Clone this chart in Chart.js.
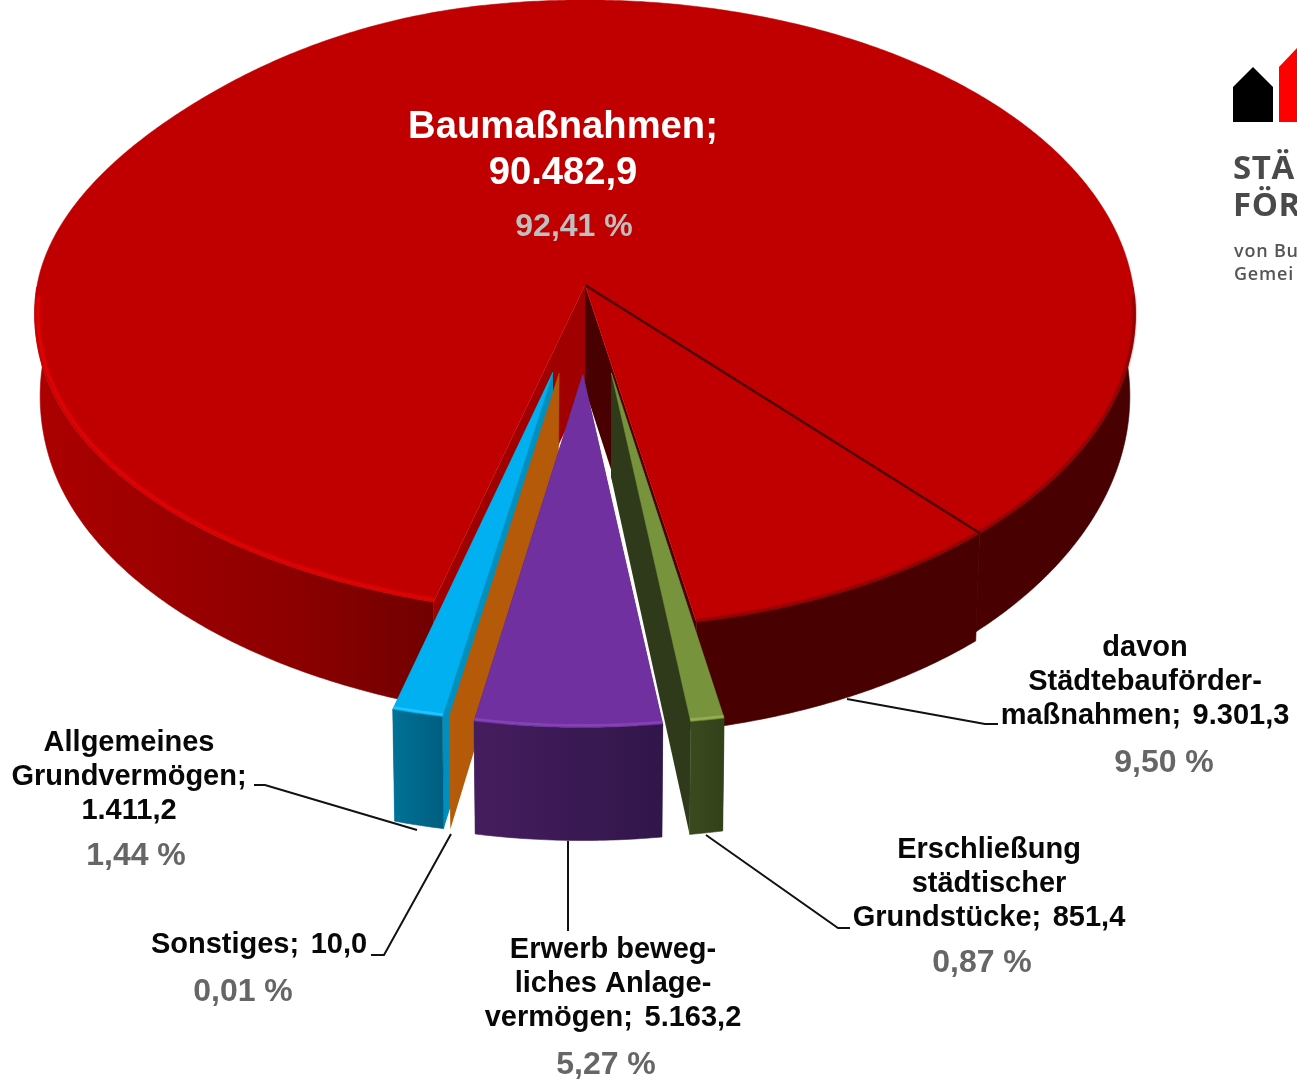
<!DOCTYPE html>
<html lang="de">
<head>
<meta charset="utf-8">
<title>Fördermittel</title>
<style>
html,body{margin:0;padding:0;background:#fff;overflow:hidden}
#wrap{position:absolute;left:0;top:0;width:1297px;height:1079px}
</style>
<script src="https://cdn.jsdelivr.net/npm/chart.js@4"></script>
</head>
<body>
<div id="wrap"><canvas id="c" width="1297" height="1079"></canvas></div>
<script>
/* ---------- data ---------- */
const categories = ["Baumaßnahmen (übrige)", "davon Städtebauförder-maßnahmen", "Erschließung städtischer Grundstücke", "Erwerb bewegliches Anlagevermögen", "Sonstiges", "Allgemeines Grundvermögen"];
const amounts = [81181.6, 9301.3, 851.4, 5163.2, 10.0, 1411.2];
const sliceColors = ["#C00000", "#C00000", "#77933C", "#7030A0", "#B45A08", "#00B0F0"];
const sliceOffsets = [0, 0, 132, 132, 132, 132];

const textBaumassnahmen = ["Baumaßnahmen;", "90.482,9"];
const textDavon = ["davon", "Städtebauförder-", "maßnahmen;  9.301,3"];
const textAllgemein = ["Allgemeines", "Grundvermögen;", "1.411,2"];
const textSonstiges = ["Sonstiges;  10,0"];
const textErwerb = ["Erwerb beweg-", "liches Anlage-", "vermögen;  5.163,2"];
const textErschliessung = ["Erschließung", "städtischer", "Grundstücke;  851,4"];
const percents = ["92,41 %", "9,50 %", "1,44 %", "0,01 %", "5,27 %", "0,87 %"];

/* ---------- 3D projection of the pie plane ---------- */
const VIEW = {cx:585, cy:285, sx:548, sy:311.4, p:0.0924, floorShrink:0.99, apexDepth:104};
const rad = d => d*Math.PI/180;
function project(X, Y, drop){
  const w = 1 - VIEW.p*Y;
  let x = VIEW.cx + VIEW.sx*X/w, y = VIEW.cy + VIEW.sy*Y/w;
  if (drop){ x = VIEW.cx + (x-VIEW.cx)*VIEW.floorShrink; y += drop; }
  return [x,y];
}
/* the original's left rim is not a true ellipse: two soft radial insets */
const smooth = t => { t=Math.max(0,Math.min(1,t)); return t*t*(3-2*t); };
function rimInset(th){
  const d=((th*180/Math.PI)%360+360)%360;
  const front = (d>=95 && d<180) ? 0.036*smooth((165-d)/60) : 0;
  const back = 0.026*smooth(1-Math.abs(d-218)/40);
  return front+back;
}
/* per-slice look: nudges follow the small angular drift of the hand-edited original;
   the Sonstiges sliver is a flat, widened overlay there, so its drawn width is a style */
const LOOK = [
 {startN:-0.3, endN:3.9, dirN:0, radius:1, depth:80, pow:3, face:"#A00000", wall:"rest", inset:true},
 {startN:3.9, endN:1.2, dirN:0, radius:1, depth:108, pow:0, face:"#480000", wall:"#480000"},
 {startN:1.3, endN:1.4, dirN:0.6, radius:0.974, depth:100, pow:1, face:"#2F3A1A", wall:["#3A4A1E","#33401A"], rim:"#93AC55"},
 {startN:1.1, endN:0.07, dirN:0, radius:0.977, depth:100, pow:1, face:"#3A1A50", wall:["#451D5E","#31164A"], rim:"#8442B4"},
 {startN:-10.3, endN:0, dirN:-0.8, radius:0.972, depth:99, pow:1, face:null, wall:"#B45A08", flat:true, taper:3.3},
 {startN:0, endN:-0.3, dirN:-1.1, radius:0.971, depth:99.5, pow:1, face:"#0090C0", wall:["#007196","#005F80"], rim:"#20C4FF"}
];
const SEPARATOR = "#4A0000";

function geom(arc, look){
  const s = arc.startAngle + rad(look.startN), e = arc.endAngle + rad(look.endN);
  const dir = (arc.startAngle+arc.endAngle)/2 + rad(look.dirN);
  const ex = (arc.options.offset||0)/arc.outerRadius;
  const ox = ex*Math.cos(dir), oy = ex*Math.sin(dir);
  const at = (th, rr, z) => {
    const r = rr*look.radius*(look.inset ? 1-rimInset(th) : 1);
    const Y = oy + r*Math.sin(th), X = ox + r*Math.cos(th);
    const drop = z ? look.depth/Math.pow(1-VIEW.p*Y, look.pow) : 0;
    return project(X, Y, drop);
  };
  return {s, e, at, ox, oy};
}
function poly(ctx, pts){
  ctx.beginPath();
  pts.forEach((p,i)=> i?ctx.lineTo(p[0],p[1]):ctx.moveTo(p[0],p[1]));
  ctx.closePath();
}
function samples(a,b){ const n=Math.max(2,Math.ceil((b-a)/rad(0.5))); const o=[]; for(let i=0;i<=n;i++) o.push(a+(b-a)*i/n); return o; }
function drawFace(ctx,g,th,color){
  if(!color) return;
  const top=g.at(th,0,0), rim=g.at(th,1,0), low=g.at(th,1,1);
  const apexLow=project(g.ox,g.oy,VIEW.apexDepth);
  ctx.fillStyle=color; poly(ctx,[top,rim,low,apexLow]); ctx.fill();
}
function drawWall(ctx,g,look){
  const fill = look.wall;
  const ths = samples(g.s,g.e).filter(t=>Math.sin(t)>0);
  if(ths.length<2) return;
  const runs=[[ths[0]]];
  for(let i=1;i<ths.length;i++){ if(ths[i]-ths[i-1]>rad(2)) runs.push([]); runs[runs.length-1].push(ths[i]); }
  runs.forEach(run=>{
    if(run.length<2) return;
    const up=run.map(t=>g.at(t,1,0)), down=run.map(t=>g.at(t,1,1)).reverse();
    let style=fill;
    if(fill==="rest"){
      const gr=ctx.createLinearGradient(35,0,1000,0);
      gr.addColorStop(0,"#AC0000"); gr.addColorStop(0.27,"#8C0000"); gr.addColorStop(0.41,"#720000"); gr.addColorStop(0.98,"#480000");
      style=gr;
    } else if(Array.isArray(fill)){
      const gr=ctx.createLinearGradient(up[0][0],0,up[up.length-1][0],0);
      gr.addColorStop(0,fill[1]); gr.addColorStop(1,fill[0]);
      style=gr;
    }
    ctx.fillStyle=style; ctx.strokeStyle=style; ctx.lineWidth=0.6;
    poly(ctx,up.concat(down)); ctx.fill(); ctx.stroke();
  });
}
function drawTop(ctx,g,color){
  const pts=[g.at(0,0,0)].concat(samples(g.s,g.e).map(t=>g.at(t,1,0)));
  ctx.fillStyle=color; ctx.strokeStyle=color; ctx.lineWidth=0.5;
  poly(ctx,pts); ctx.fill(); ctx.stroke();
}
function strokeRim(ctx,g,a,b,color,w,rr){
  const pts=samples(a,b).map(t=>g.at(t,rr||0.997,0));
  ctx.save(); ctx.strokeStyle=color; ctx.lineWidth=w; ctx.lineCap="butt";
  ctx.beginPath(); pts.forEach((p,i)=>i?ctx.lineTo(p[0],p[1]):ctx.moveTo(p[0],p[1])); ctx.stroke(); ctx.restore();
}
function drawWedge(ctx,arc,look,color){
  const g=geom(arc,look);
  if(look.flat){
    const a=g.at(g.e,1,0), aLow=g.at(g.e,1,1);
    const tip=[aLow[0]+(aLow[1]-a[1])/look.taper, a[1]];
    ctx.fillStyle=look.wall; poly(ctx,[a,aLow,tip]); ctx.fill();
    drawTop(ctx,g,color);
    return;
  }
  drawFace(ctx,g,g.s,look.face);
  drawFace(ctx,g,g.e,look.face);
  drawWall(ctx,g,look);
  drawTop(ctx,g,color);
  if(look.rim){ ctx.filter="blur(0.7px)"; strokeRim(ctx,g,g.s,g.e,look.rim,2.6,0.995); ctx.filter="none"; }
}

const pie3d = {
  id:"pie3d",
  beforeDatasetsDraw(chart){
    const ctx=chart.ctx, arcs=chart.getDatasetMeta(0).data;
    ctx.save();
    const rest=geom(arcs[0],LOOK[0]), davon=geom(arcs[1],LOOK[1]);
    drawFace(ctx,rest,rest.s,LOOK[0].face);
    drawFace(ctx,davon,davon.e,LOOK[1].face);
    drawWall(ctx,rest,LOOK[0]);
    drawWall(ctx,davon,LOOK[1]);
    drawTop(ctx,rest,sliceColors[0]);
    drawTop(ctx,davon,sliceColors[1]);
    // bright rim on the lit side, soft dark rim on the shaded side
    ctx.filter="blur(1px)";
    strokeRim(ctx,rest,rest.s,rad(178),"#E40404",3.4,0.994);
    strokeRim(ctx,rest,rad(2),rest.e-2*Math.PI,"#800000",2.5,0.998);
    strokeRim(ctx,davon,davon.s,davon.e,"#800000",2.5,0.998);
    ctx.filter="none";
    // separator between the "davon" slice and the rest
    const sepA=davon.at(0,0,0), sepB=davon.at(davon.s,1,0);
    ctx.strokeStyle=SEPARATOR; ctx.lineWidth=2.4;
    ctx.beginPath(); ctx.moveTo(sepA[0],sepA[1]); ctx.lineTo(sepB[0],sepB[1]); ctx.stroke();
    // exploded wedges back to front
    [5,4,2,3].forEach(i=>drawWedge(ctx,arcs[i],LOOK[i],sliceColors[i]));
    ctx.restore();
    return false;
  }
};

/* ---------- labels, leaders, logo ---------- */
const SANS='"Liberation Sans", Arial, sans-serif';
const BLOCKS=[
 {lines:textDavon, x:1145, y:656, dy:34, pct:1, px:1164, py:772},
 {lines:textAllgemein, x:129, y:751, dy:34, pct:2, px:136, py:865},
 {lines:textSonstiges, x:259, y:953, dy:34, pct:3, px:243, py:1001},
 {lines:textErwerb, x:613, y:958, dy:34, pct:4, px:606, py:1074},
 {lines:textErschliessung, x:989, y:858, dy:34, pct:5, px:982, py:972}
];
const LEADERS=[
 [[847,699],[985,724],[998,724]],
 [[254,785],[265,785],[417,830]],
 [[371,955],[384,955],[451,834]],
 [[568,841],[568,931]],
 [[706,835],[838,928],[850,928]]
];
const overlay={
  id:"overlay",
  afterDraw(chart){
    const c=chart.ctx;
    c.save();
    c.textAlign="center"; c.textBaseline="alphabetic";
    c.fillStyle="#FFFFFF"; c.font='bold 38.2px '+SANS;
    c.fillText(textBaumassnahmen[0],563,138);
    c.fillText(textBaumassnahmen[1],563,184);
    c.fillStyle="#BFBFBF"; c.font='bold 32px '+SANS;
    c.fillText(percents[0],574,236);
    BLOCKS.forEach(b=>{
      c.fillStyle="#080808"; c.font='bold 29px '+SANS;
      b.lines.forEach((t,i)=>{
        c.wordSpacing = t.includes("  ") ? "-2.3px" : "0px";
        c.fillText(t,b.x,b.y+i*b.dy);
      });
      c.wordSpacing="0px";
      c.fillStyle="#666666"; c.font='bold 32px '+SANS;
      c.fillText(percents[b.pct],b.px,b.py);
    });
    c.strokeStyle="#111111"; c.lineWidth=2;
    LEADERS.forEach(l=>{c.beginPath(); l.forEach((p,i)=>i?c.lineTo(p[0],p[1]):c.moveTo(p[0],p[1])); c.stroke();});
    // logo
    c.fillStyle="#000000"; poly(c,[[1233,87],[1253,67],[1273,87],[1273,122],[1233,122]]); c.fill();
    c.fillStyle="#FF0000"; poly(c,[[1279,67],[1297,48],[1297,122],[1279,122]]); c.fill();
    c.textAlign="left";
    c.fillStyle="#4A4A4A"; c.font='bold 33px "Open Sans", sans-serif'; c.letterSpacing="0.6px";
    c.fillText("STÄ",1233,179); c.fillText("FÖR",1233,216);
    c.fillStyle="#555555"; c.font='600 18px "Open Sans", sans-serif'; c.letterSpacing="0.8px";
    c.fillText("von Bu",1234,257); c.fillText("Gemei",1234,280);
    c.letterSpacing="0px";
    c.restore();
  }
};

new Chart(document.getElementById("c"),{
  type:"pie",
  data:{labels:categories,datasets:[{data:amounts,backgroundColor:sliceColors,offset:sliceOffsets,borderWidth:0}]},
  options:{
    responsive:false,animation:false,rotation:195.5,
    layout:{padding:0},
    plugins:{legend:{display:false},tooltip:{enabled:false}},
    events:[]
  },
  plugins:[pie3d,overlay]
});
</script>
</body>
</html>
